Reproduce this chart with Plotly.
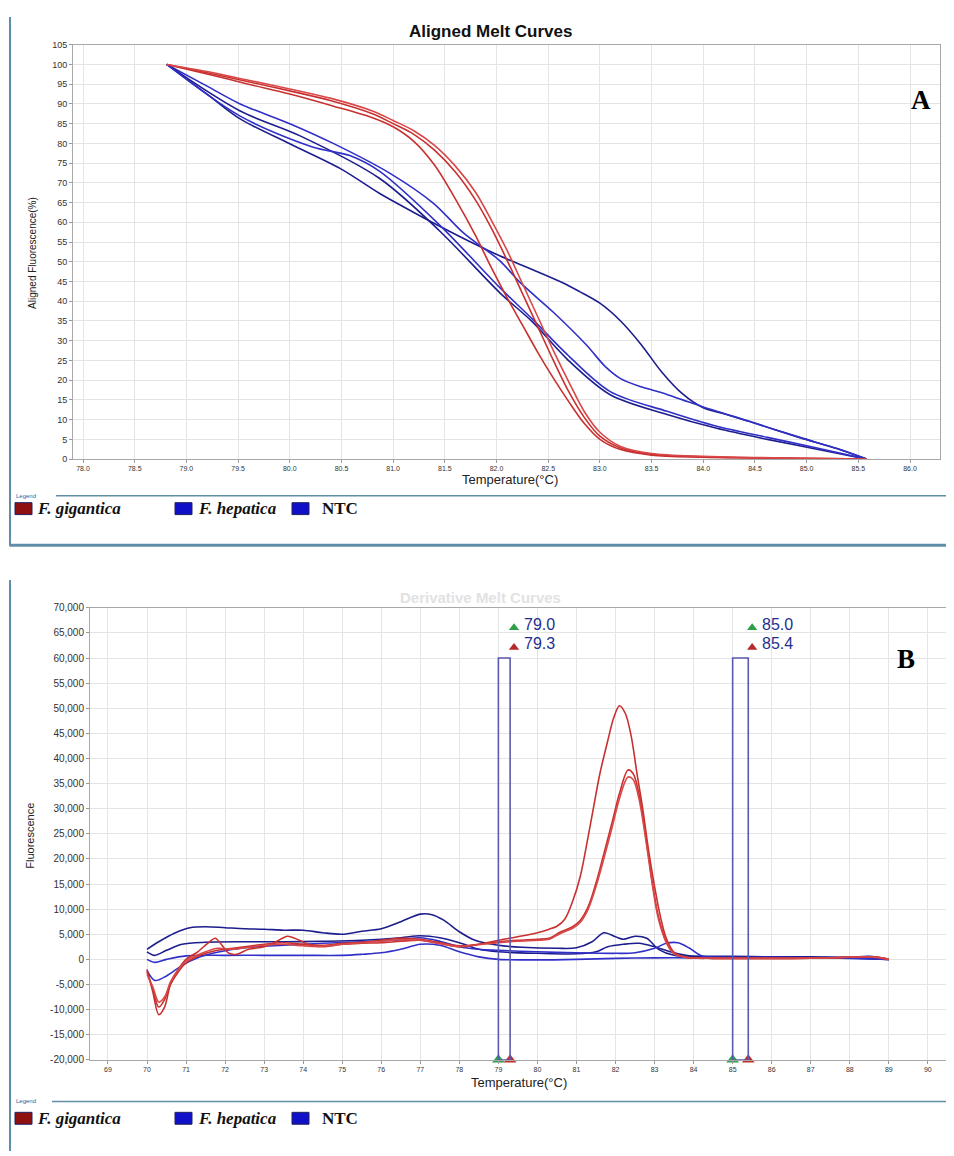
import plotly.graph_objects as go

W, H = 954, 1156
OFF = 8  # default page body margin in the browser
FW, FH = W - OFF, H - OFF

# ---------------- Panel A: aligned melt curves (temperature °C, aligned fluorescence %) ----------------
a_gig_t = [78.81, 79.2, 79.6, 80.0, 80.4, 80.8, 81.0, 81.2, 81.4, 81.6, 81.8, 81.95, 82.1, 82.25, 82.4, 82.55, 82.7, 82.85, 83.0, 83.2, 83.5, 84.0, 84.5, 85.0, 85.58]
a_gig1_f = [100, 97.6, 95.0, 92.5, 89.6, 86.5, 84.2, 80.5, 74.5, 66.0, 56.5, 48.5, 41.0, 34.0, 27.0, 20.5, 14.5, 9.0, 5.0, 2.4, 1.0, 0.5, 0.3, 0.1, 0]
a_gig2_f = [100, 97.9, 95.6, 93.3, 90.8, 87.5, 85.0, 82.3, 78.3, 72.8, 65.5, 58.5, 50.5, 42.0, 33.5, 25.0, 17.0, 10.5, 5.8, 2.8, 1.2, 0.6, 0.3, 0.2, 0]
a_gig3_f = [100, 98.2, 96.0, 93.8, 91.4, 88.2, 85.8, 83.2, 79.5, 74.3, 67.5, 60.5, 53.0, 44.5, 36.0, 27.5, 19.5, 12.0, 6.8, 3.2, 1.4, 0.7, 0.4, 0.2, 0]

a_hep1_t = [78.81, 79.2, 79.52, 80.0, 80.49, 80.87, 81.2, 81.45, 81.75, 82.03, 82.35, 82.64, 82.8, 83.0, 83.2, 83.4, 83.6, 83.8, 84.0, 84.2, 84.45, 84.93, 85.3, 85.58]
a_hep1_f = [100, 92.5, 86.2, 79.9, 73.6, 67.3, 62.5, 59.0, 55.0, 51.5, 48.0, 44.7, 42.5, 39.5, 35.0, 29.0, 22.0, 16.5, 13.0, 11.5, 9.5, 5.5, 2.6, 0]
a_hep2_t = [78.81, 79.2, 79.52, 80.0, 80.42, 80.97, 81.39, 81.68, 82.03, 82.23, 82.55, 82.87, 83.05, 83.2, 83.4, 83.6, 83.8, 84.0, 84.45, 84.93, 85.3, 85.58]
a_hep2_f = [100, 94.5, 90.0, 85.0, 80.0, 72.4, 64.8, 57.3, 50.3, 44.7, 37.2, 28.9, 23.5, 20.4, 18.3, 16.8, 15.0, 13.2, 9.5, 5.5, 2.6, 0]
a_ntc1_t = [78.81, 79.52, 80.10, 80.87, 81.45, 82.03, 82.35, 82.68, 83.10, 83.65, 84.13, 84.62, 85.10, 85.58]
a_ntc1_f = [100, 88.2, 81.9, 71.1, 57.8, 42.2, 34.7, 25.4, 16.3, 11.3, 7.8, 5.0, 2.5, 0]
a_ntc2_t = [78.81, 79.52, 80.22, 80.58, 80.87, 81.45, 82.03, 82.35, 82.68, 83.10, 83.65, 84.13, 84.62, 85.10, 85.58]
a_ntc2_f = [100, 86.9, 79.1, 76.9, 72.9, 59.3, 43.5, 35.4, 26.6, 17.1, 12.1, 8.3, 5.5, 2.8, 0]

a_xticks = [78.0 + 0.5 * i for i in range(17)]
a_xticklabels = ["%.1f" % v for v in a_xticks]
a_yticks = list(range(0, 106, 5))

# ---------------- Panel B: derivative melt curves (temperature °C, fluorescence) ----------------
b_gig1_t = [70.0, 70.15, 70.3, 70.45, 70.6, 70.8, 71.0, 71.3, 71.6, 71.75, 71.9, 72.1, 72.3, 72.6, 73.0, 73.3, 73.6, 73.9, 74.2, 74.5, 75.0, 75.5, 76.0, 76.5, 77.0, 77.5, 78.0, 78.5, 79.0, 79.5, 80.0, 80.3, 80.5, 80.7, 80.9, 81.1, 81.3, 81.45, 81.6, 81.8, 81.95, 82.1, 82.25, 82.4, 82.55, 82.7, 82.85, 83.0, 83.15, 83.3, 83.5, 83.8, 84.5, 85.5, 86.5, 87.5, 88.5, 89.0]
b_gig1_f = [-2000, -6500, -11000, -9500, -5000, -2000, 0, 1500, 3500, 4200, 3000, 1200, 1000, 2000, 2500, 3500, 4600, 3800, 2800, 2500, 3000, 3200, 3300, 3600, 3800, 3200, 2500, 3000, 3800, 4500, 5300, 6000, 6600, 8000, 11500, 16600, 24500, 30800, 37000, 43500, 48000, 50500, 49000, 44500, 37000, 29800, 21500, 14500, 8500, 4200, 1400, 400, 200, 200, 200, 300, 500, 0]
b_gig2_t = [70.0, 70.15, 70.3, 70.45, 70.6, 70.8, 71.0, 71.4, 71.8, 72.2, 72.6, 73.0, 73.5, 74.0, 74.5, 75.0, 75.5, 76.0, 76.5, 77.0, 77.5, 78.0, 78.5, 79.0, 79.5, 80.0, 80.3, 80.6, 80.9, 81.1, 81.3, 81.5, 81.7, 81.93, 82.1, 82.32, 82.45, 82.6, 82.8, 82.95, 83.1, 83.3, 83.5, 83.8, 84.5, 85.5, 86.5, 87.5, 88.6, 89.0]
b_gig2_f = [-2500, -6000, -9500, -8000, -5000, -2500, -700, 900, 1800, 2200, 2600, 3000, 3300, 3000, 2800, 3200, 3400, 3800, 4200, 4000, 3300, 2700, 3000, 3500, 3800, 4000, 4200, 5500, 6500, 7800, 10500, 15200, 21000, 27800, 33000, 37700, 37000, 33000, 23100, 15000, 8500, 3600, 1200, 400, 200, 200, 200, 300, 500, 0]
b_gig3_f = [-3000, -5500, -8500, -7500, -4500, -2000, -300, 1200, 2200, 2000, 2400, 2800, 3000, 2700, 2600, 3000, 3300, 3600, 3900, 3800, 3100, 2600, 2900, 3300, 3600, 3800, 4000, 5200, 6200, 7400, 10000, 14500, 20000, 26800, 32000, 36300, 35800, 32000, 22500, 14500, 8000, 3300, 1100, 400, 200, 200, 200, 300, 500, 0]

b_hep1_t = [70.0, 70.3, 70.7, 71.1, 71.5, 72.0, 72.5, 73.0, 73.5, 74.0, 74.5, 75.0, 75.5, 76.0, 76.5, 77.0, 77.3, 77.6, 78.0, 78.4, 79.0, 79.6, 80.5, 81.0, 81.4, 81.7, 82.0, 82.2, 82.5, 82.8, 83.1, 83.5, 84.0, 85.0, 86.0, 87.0, 88.0, 88.5, 89.0]
b_hep1_f = [2000, 3500, 5200, 6300, 6500, 6300, 6100, 6000, 5800, 5800, 5300, 5000, 5600, 6100, 7500, 9000, 8900, 7800, 5500, 3800, 2800, 2400, 2200, 2300, 3500, 5300, 4500, 4000, 4600, 4200, 2000, 800, 600, 600, 500, 500, 400, 600, 0]
b_hep2_t = [70.0, 70.2, 70.5, 70.9, 71.5, 72.5, 73.5, 74.5, 75.5, 76.5, 77.0, 77.5, 78.0, 78.5, 79.0, 80.0, 81.0, 81.5, 81.8, 82.2, 82.6, 83.0, 83.4, 83.8, 84.2, 85.0, 86.0, 87.0, 88.0, 89.0]
b_hep2_f = [1500, 800, 1800, 3000, 3400, 3500, 3500, 3600, 3800, 4300, 4700, 4300, 3300, 2000, 1500, 1200, 1100, 1500, 2500, 3000, 3200, 2500, 1500, 800, 500, 500, 400, 400, 300, 0]
b_ntc1_t = [70.0, 70.2, 70.5, 70.9, 71.3, 71.8, 72.5, 73.5, 74.5, 75.5, 76.5, 77.0, 77.5, 78.0, 78.5, 79.0, 80.0, 81.0, 82.0, 82.5, 83.0, 83.3, 83.6, 83.9, 84.2, 85.0, 86.0, 87.0, 88.0, 89.0]
b_ntc1_f = [-2200, -4200, -3300, -1200, 300, 1400, 2300, 2800, 3200, 3500, 3900, 4300, 3600, 2500, 2000, 1800, 1500, 1300, 1200, 1300, 2200, 3200, 3300, 2200, 700, 400, 400, 300, 300, 0]
b_ntc2_t = [70.0, 70.2, 70.5, 71.0, 72.0, 73.0, 74.0, 75.0, 75.5, 76.0, 76.5, 77.0, 77.5, 78.0, 78.5, 79.0, 80.0, 81.0, 82.0, 83.0, 84.0, 85.0, 86.0, 87.0, 88.0, 89.0]
b_ntc2_f = [0, -600, 0, 700, 800, 800, 800, 800, 1000, 1300, 2000, 3000, 2800, 1500, 500, 0, -100, 0, 200, 300, 300, 300, 300, 300, 200, 0]

b_xticks = list(range(69, 91))
b_yticks = list(range(-20000, 70001, 5000))
b_yticklabels = ["-20,000", "-15,000", "-10,000", "-5,000", "0", "5,000", "10,000", "15,000", "20,000",
                 "25,000", "30,000", "35,000", "40,000", "45,000", "50,000", "55,000", "60,000", "65,000", "70,000"]

# melt region markers (start/end bars): green = lower, red = upper
b_markers_lo = [79.0, 85.0]
b_markers_hi = [79.3, 85.4]
b_marker_top = 60000

legend_names = ["F. gigantica", "F. hepatica", "NTC"]

# ---------------- styling ----------------
RED = "#c8312f"
NAVY = "#1d1d8e"
BLUE = "#3030c8"
GRID = "#e4e4e4"
SANS = "Liberation Sans, Arial, sans-serif"
SERIF = "Liberation Serif, Times New Roman, serif"


def px(x):
    return (x - OFF) / FW


def py(y):
    return 1 - (y - OFF) / FH


fig = go.Figure()


def add(xs, ys, color, xa, ya, width=1.6):
    fig.add_trace(go.Scatter(x=xs, y=ys, mode="lines", xaxis=xa, yaxis=ya,
                             line=dict(color=color, width=width, shape="spline", smoothing=0.9),
                             showlegend=False, hoverinfo="skip"))


# Panel A traces
add(a_hep1_t, a_hep1_f, NAVY, "x", "y")
add(a_hep2_t, a_hep2_f, BLUE, "x", "y")
add(a_ntc1_t, a_ntc1_f, NAVY, "x", "y")
add(a_ntc2_t, a_ntc2_f, BLUE, "x", "y")
add(a_gig_t, a_gig1_f, RED, "x", "y")
add(a_gig_t, a_gig2_f, RED, "x", "y")
add(a_gig_t, a_gig3_f, "#d84848", "x", "y")

# Panel B traces
add(b_hep1_t, b_hep1_f, NAVY, "x2", "y2")
add(b_hep2_t, b_hep2_f, NAVY, "x2", "y2")
add(b_ntc1_t, b_ntc1_f, BLUE, "x2", "y2")
add(b_ntc2_t, b_ntc2_f, BLUE, "x2", "y2")
add(b_gig1_t, b_gig1_f, RED, "x2", "y2")
add(b_gig2_t, b_gig2_f, RED, "x2", "y2")
add(b_gig2_t, b_gig3_f, "#d84848", "x2", "y2")

# Marker triangles on the x axis of panel B and near the labels
fig.add_trace(go.Scatter(x=b_markers_lo, y=[-20000] * 2, mode="markers", xaxis="x2", yaxis="y2",
                         marker=dict(symbol="triangle-up", size=11, color="#2ea04a"),
                         cliponaxis=False, showlegend=False, hoverinfo="skip"))
fig.add_trace(go.Scatter(x=b_markers_hi, y=[-20000] * 2, mode="markers", xaxis="x2", yaxis="y2",
                         marker=dict(symbol="triangle-up", size=11, color="#c0302c"),
                         cliponaxis=False, showlegend=False, hoverinfo="skip"))
tri_x = [h + 0.1 for h in b_markers_hi]
fig.add_trace(go.Scatter(x=tri_x, y=[b_marker_top + 6000] * 2, mode="markers", xaxis="x2", yaxis="y2",
                         marker=dict(symbol="triangle-up", size=9, color="#2ea04a"),
                         cliponaxis=False, showlegend=False, hoverinfo="skip"))
fig.add_trace(go.Scatter(x=tri_x, y=[b_marker_top + 2100] * 2, mode="markers", xaxis="x2", yaxis="y2",
                         marker=dict(symbol="triangle-up", size=9, color="#b52a2a"),
                         cliponaxis=False, showlegend=False, hoverinfo="skip"))

shapes = []
annotations = []

for lo, hi in zip(b_markers_lo, b_markers_hi):
    shapes.append(dict(type="rect", xref="x2", yref="y2", x0=lo, x1=hi, y0=-20000, y1=b_marker_top,
                       line=dict(color="#5a5ab0", width=1.6), fillcolor="rgba(0,0,0,0)", layer="above"))
    annotations.append(dict(xref="x2", yref="y2", x=hi + 0.3, y=b_marker_top + 6600, text="%.1f" % lo,
                            showarrow=False, xanchor="left", yanchor="middle",
                            font=dict(family=SANS, size=16, color="#1f2f8f")))
    annotations.append(dict(xref="x2", yref="y2", x=hi + 0.3, y=b_marker_top + 2800, text="%.1f" % hi,
                            showarrow=False, xanchor="left", yanchor="middle",
                            font=dict(family=SANS, size=16, color="#1f2f8f")))

# Panel frames / legend boxes
frame = "#5f8fa8"
shapes += [
    dict(type="line", xref="paper", yref="paper", x0=px(10), x1=px(10), y0=py(12), y1=py(546), line=dict(color=frame, width=2)),
    dict(type="line", xref="paper", yref="paper", x0=px(56), x1=px(954), y0=py(495), y1=py(495), line=dict(color=frame, width=1.5)),
    dict(type="line", xref="paper", yref="paper", x0=px(10), x1=px(954), y0=py(545), y1=py(545), line=dict(color=frame, width=3)),
    dict(type="line", xref="paper", yref="paper", x0=px(10), x1=px(10), y0=py(580), y1=py(1156), line=dict(color=frame, width=2)),
    dict(type="line", xref="paper", yref="paper", x0=px(52), x1=px(951), y0=py(1106), y1=py(1106), line=dict(color=frame, width=1.5)),
    dict(type="line", xref="paper", yref="paper", x0=px(951), x1=px(951), y0=py(1106), y1=py(1156), line=dict(color=frame, width=1.5)),
]

# Custom legends (both panels)
leg_colors = ["#8e1010", "#1010c8", "#1010c8"]
for row_y, leg_top in [(508, 495), (1123, 1106)]:
    annotations.append(dict(xref="paper", yref="paper", x=px(14), y=py(leg_top), text="Legend",
                            showarrow=False, xanchor="left", yanchor="middle",
                            font=dict(family=SANS, size=6, color="#3060a0")))
    sq_x = [15, 175, 292]
    tx_x = [35, 196, 320]
    for i, name in enumerate(legend_names):
        shapes.append(dict(type="rect", xref="paper", yref="paper", x0=px(sq_x[i]), x1=px(sq_x[i] + 17),
                           y0=py(row_y - 6), y1=py(row_y + 6), fillcolor=leg_colors[i],
                           line=dict(color="#202060", width=1)))
        label = "<b><i>%s</i></b>" % name if i < 2 else "<b>%s</b>" % name
        annotations.append(dict(xref="paper", yref="paper", x=px(tx_x[i]), y=py(row_y), text=label,
                                showarrow=False, xanchor="left", yanchor="middle",
                                font=dict(family=SERIF, size=17, color="#111")))


def centered(x, y, text, size, family=SANS, color="#222", angle=0):
    return dict(xref="paper", yref="paper", x=px(x), y=py(y), text=text, showarrow=False,
                xanchor="center", yanchor="middle", textangle=angle,
                font=dict(family=family, size=size, color=color))


annotations += [
    centered(490, 27, "<b>Aligned Melt Curves</b>", 17, color="#111"),
    centered(480, 598, "<b>Derivative Melt Curves</b>", 15, color="#e2e2e2"),
    centered(921, 96, "<b>A</b>", 27, family=SERIF, color="#000"),
    centered(906, 660, "<b>B</b>", 27, family=SERIF, color="#000"),
    centered(510, 479, "Temperature(°C)", 13),
    centered(33, 250, "Aligned Fluorescence(%)", 10, angle=-90),
    centered(519, 1087, "Temperature(°C)", 13),
    centered(30, 838, "Fluorescence", 11, angle=-90),
]

axis_common = dict(showgrid=True, gridcolor=GRID, gridwidth=1, zeroline=False, showline=True,
                   linecolor="#a8a8a8", linewidth=1, mirror=True, ticks="outside", ticklen=3,
                   tickcolor="#999")

fig.update_layout(
    width=FW, height=FH, autosize=False,
    margin=dict(l=0, r=0, t=0, b=0),
    paper_bgcolor="white", plot_bgcolor="white",
    showlegend=False,
    xaxis=dict(domain=[px(73), px(940)], range=[77.903, 86.29], anchor="y",
               tickvals=a_xticks, ticktext=a_xticklabels,
               tickfont=dict(family=SANS, size=7, color="#333"), **axis_common),
    yaxis=dict(domain=[py(458), py(40)], range=[0, 105], anchor="x", tickvals=a_yticks,
               tickfont=dict(family=SANS, size=9, color="#333"), **axis_common),
    xaxis2=dict(domain=[px(90), px(947)], range=[68.54, 90.49], anchor="y2", tickvals=b_xticks,
                tickfont=dict(family=SANS, size=7, color="#333"), **axis_common),
    yaxis2=dict(domain=[py(1064), py(608)], range=[-20000, 70000], anchor="x2",
                tickvals=b_yticks, ticktext=b_yticklabels,
                tickfont=dict(family=SANS, size=10, color="#333"), **axis_common),
    shapes=shapes,
    annotations=annotations,
)

fig.write_html("out.html")
